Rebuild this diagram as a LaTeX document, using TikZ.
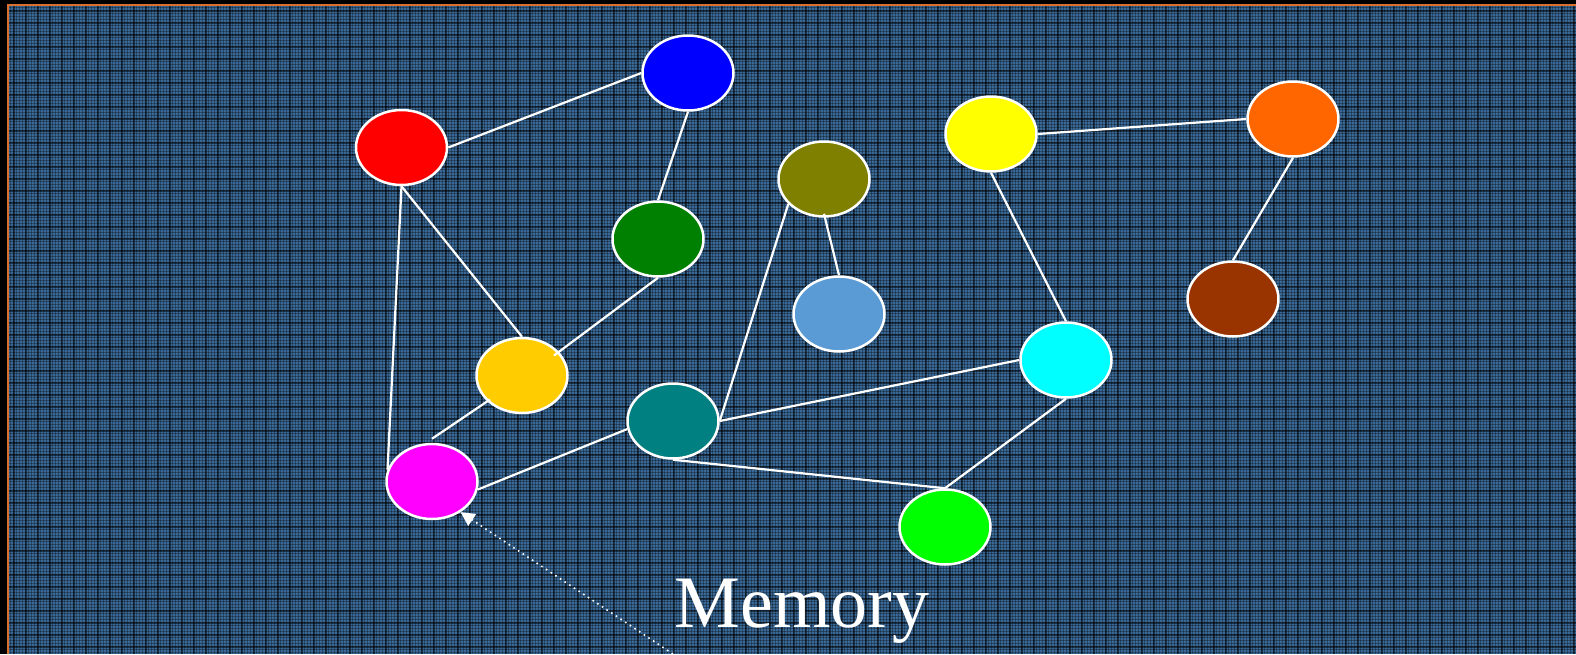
\documentclass[tikz,border=0pt]{standalone}
\usepackage{fontspec}
\setmainfont{Liberation Serif}
\usetikzlibrary{shapes.geometric,arrows.meta,calc}
\definecolor{bgblue}{HTML}{3A6896}
\definecolor{frameorange}{HTML}{D9702E}
\definecolor{cRed}{HTML}{FF0000}
\definecolor{cBlue}{HTML}{0000FF}
\definecolor{cGreen}{HTML}{008000}
\definecolor{cOlive}{HTML}{808000}
\definecolor{cLightBlue}{HTML}{5B9BD5}
\definecolor{cYellow}{HTML}{FFFF00}
\definecolor{cOrange}{HTML}{FF6600}
\definecolor{cBrown}{HTML}{993300}
\definecolor{cGold}{HTML}{FFCC00}
\definecolor{cTeal}{HTML}{008080}
\definecolor{cCyan}{HTML}{00FFFF}
\definecolor{cMagenta}{HTML}{FF00FF}
\definecolor{cLime}{HTML}{00FF00}
\tikzset{
  blob/.style={ellipse, draw=white, line width=1.25pt, minimum width=45.5pt, minimum height=37.5pt, inner sep=0pt},
  link/.style={draw=white, line width=1.1pt},
  pointer/.style={draw=white, line width=0.8pt, dotted, -{Triangle[width=7pt,length=7pt]}},
  label/.style={text=white, font=\fontsize{37}{40}\selectfont, anchor=base, inner sep=0pt}
}
\begin{document}
\begin{tikzpicture}[x=0.5pt,y=-0.5pt]
\useasboundingbox (0,0) rectangle (1576,654);
% background
\fill[black] (0,0) rectangle (1576,654);
\fill[bgblue] (9,6) rectangle (1576,654);
\begin{scope}
\clip (9,6) rectangle (1576,654);
\foreach \x in {10,13,...,1576} \draw[black, opacity=0.3, line width=0.5pt] (\x,6) -- (\x,654);
\foreach \y in {7,10,...,654} \draw[black, opacity=0.3, line width=0.5pt] (9,\y) -- (1576,\y);
\foreach \x in {14,26,...,1576} \draw[black, opacity=0.5, line width=0.7pt] (\x,6) -- (\x,654);
\foreach \y in {11,23,...,654} \draw[black, opacity=0.5, line width=0.7pt] (9,\y) -- (1576,\y);
\end{scope}
\draw[frameorange, line width=1pt] (8,654) -- (8,5) -- (1576,5);

% nodes
\node[blob, fill=cRed] (red) at (401.5,147.5) {};
\node[blob, fill=cBlue] (blue) at (688,73) {};
\node[blob, fill=cGreen] (green) at (658,239) {};
\node[blob, fill=cOlive] (olive) at (824,179) {};
\node[blob, fill=cLightBlue] (lightblue) at (839,314) {};
\node[blob, fill=cYellow] (yellow) at (991,134) {};
\node[blob, fill=cOrange] (orange) at (1293,119) {};
\node[blob, fill=cBrown] (brown) at (1233,299) {};
\node[blob, fill=cGold] (gold) at (522,375.5) {};
\node[blob, fill=cTeal] (teal) at (673,421) {};
\node[blob, fill=cCyan] (cyan) at (1066,360) {};
\node[blob, fill=cMagenta] (magenta) at (432,481.5) {};
\node[blob, fill=cLime] (lime) at (945,527) {};

% connectors
\path[link] (red.east) -- (blue.west);
\path[link] (blue.south) -- (green.north);
\path[link] (red.south) -- (gold.north);
\path[link] (red.south) -- (magenta.165);
\path[link] (green.south) -- ($(gold.center)+(32,-20)$);
\path[link] ($(gold.center)+(-32,24)$) -- ($(magenta.north)+(0,-4)$);
\path[link] (teal.190) -- (magenta.350);
\path[link] (olive.215) -- (teal.east);
\path[link] ($(olive.south)+(0,-4)$) -- (lightblue.north);
\path[link] (teal.east) -- (cyan.west);
\path[link] (teal.south) -- (lime.north);
\path[link] (cyan.south) -- (lime.north);
\path[link] (yellow.south) -- (cyan.north);
\path[link] (yellow.east) -- (orange.west);
\path[link] (orange.south) -- (brown.north);

% label and pointer
\node[label] (mem) at (802,627) {Memory};
\coordinate (ptrstart) at (673,654);
\path[pointer] (ptrstart) -- (magenta.-47);
\end{tikzpicture}
\end{document}
